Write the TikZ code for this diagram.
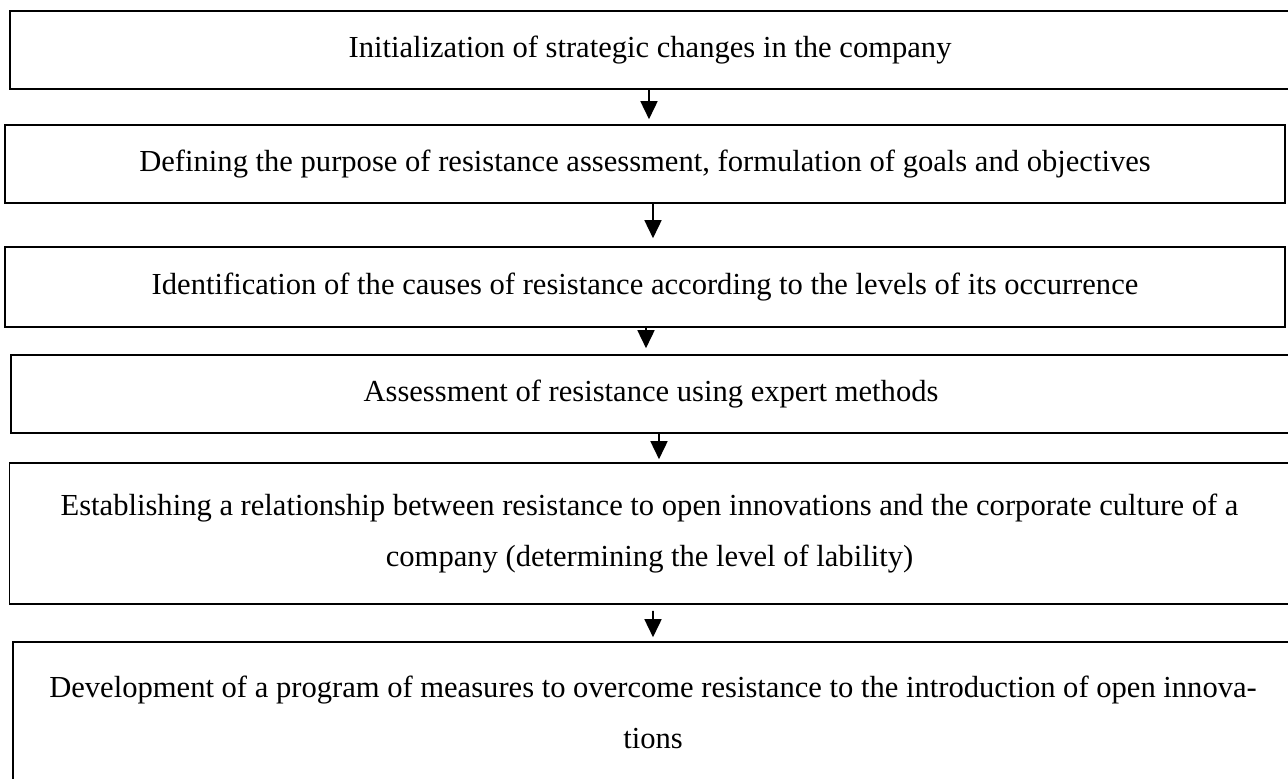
\documentclass[tikz,border=0pt]{standalone}
\usepackage{fontspec}
\setmainfont{Liberation Serif}
\usetikzlibrary{arrows.meta}

\begin{document}
\begin{tikzpicture}

\tikzstyle{stage}=[rectangle,draw,line width=0.9pt,minimum width=25.6cm,align=center,font=\fontsize{17.4pt}{29pt}\selectfont]
\tikzstyle{flow}=[line width=0.9pt,-{Triangle[width=0.34cm,length=0.36cm]}]

\useasboundingbox (0,0) rectangle (25.76,-15.56);

\node[stage,minimum height=1.56cm] (init)   at (13.00,-1.00)  {Initialization of strategic changes in the company} ;
\node[stage,minimum height=1.56cm] (goals)  at (12.90,-3.28)  {Defining the purpose of resistance assessment, formulation of goals and objectives} ;
\node[stage,minimum height=1.60cm] (causes) at (12.90,-5.74)  {Identification of the causes of resistance according to the levels of its occurrence} ;
\node[stage,minimum height=1.56cm] (expert) at (13.02,-7.88)  {Assessment of resistance using expert methods} ;
\node[stage,minimum height=2.82cm] (link)   at (12.99,-10.67) {Establishing a relationship between resistance to open innovations and the corporate culture of a\\company (determining the level of lability)} ;
\node[stage,minimum height=2.80cm] (plan)   at (13.06,-14.24) {Development of a program of measures to overcome resistance to the introduction of open innova-\\tions} ;

\draw [flow,shorten >=0.10cm] ([xshift=-0.02cm]init.south) -- ([xshift=0.08cm]goals.north);
\draw [flow,shorten >=0.16cm] ([xshift=0.16cm]goals.south) -- ([xshift=0.16cm]causes.north);
\draw [flow,shorten >=0.12cm] ([xshift=0.02cm]causes.south) -- ([xshift=-0.10cm]expert.north);
\draw [flow,shorten >=0.06cm] ([xshift=0.16cm]expert.south) -- ([xshift=0.19cm]link.north);
\draw [flow,shorten <=0.12cm,shorten >=0.08cm] ([xshift=0.07cm]link.south) -- (plan.north);

\end{tikzpicture}
\end{document}
